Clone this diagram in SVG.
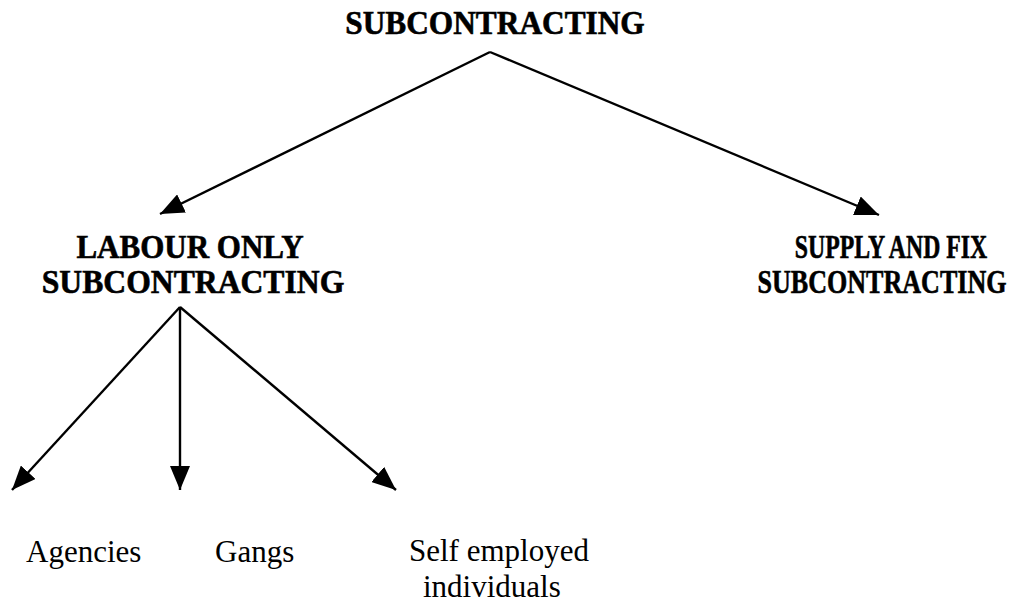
<svg xmlns="http://www.w3.org/2000/svg" width="1016" height="608" viewBox="0 0 1016 608">
<defs>
<marker id="ah" viewBox="0 0 24 20" refX="24" refY="10" markerWidth="24" markerHeight="20" markerUnits="userSpaceOnUse" orient="auto">
<path d="M0,0 L24,10 L0,20 z" fill="#000"/>
</marker>
<style>
.h{font-family:"Liberation Serif","Times New Roman",serif;font-weight:bold;font-size:33px;fill:#000;stroke:#000;stroke-width:0.6;text-anchor:middle}
.l{font-family:"Liberation Serif","Times New Roman",serif;font-size:31px;fill:#000}
.c{stroke:#000;stroke-width:2.4;fill:none;marker-end:url(#ah)}
</style>
</defs>
<rect width="1016" height="608" fill="#fff"/>
<g id="connectors">
<line class="c" x1="490" y1="52" x2="160" y2="214"/>
<line class="c" x1="490" y1="52" x2="879" y2="215"/>
<line class="c" x1="180" y1="307" x2="12" y2="490"/>
<line class="c" x1="180" y1="307" x2="180" y2="490"/>
<line class="c" x1="180" y1="307" x2="396" y2="490"/>
</g>
<g id="root">
<text class="h" transform="translate(495,34) scale(0.95,1)">SUBCONTRACTING</text>
</g>
<g id="labour-only">
<text class="h" transform="translate(190,258) scale(0.94,1)">LABOUR ONLY</text>
<text class="h" transform="translate(193,293) scale(0.96,1)">SUBCONTRACTING</text>
</g>
<g id="supply-fix">
<text class="h" transform="translate(891,258) scale(0.72,1)">SUPPLY AND FIX</text>
<text class="h" transform="translate(882,293) scale(0.79,1)">SUBCONTRACTING</text>
</g>
<g id="agencies">
<text class="l" x="26" y="562">Agencies</text>
</g>
<g id="gangs">
<text class="l" x="215" y="562">Gangs</text>
</g>
<g id="self-employed">
<text class="l" x="409" y="561">Self employed</text>
<text class="l" x="423" y="597">individuals</text>
</g>
</svg>
